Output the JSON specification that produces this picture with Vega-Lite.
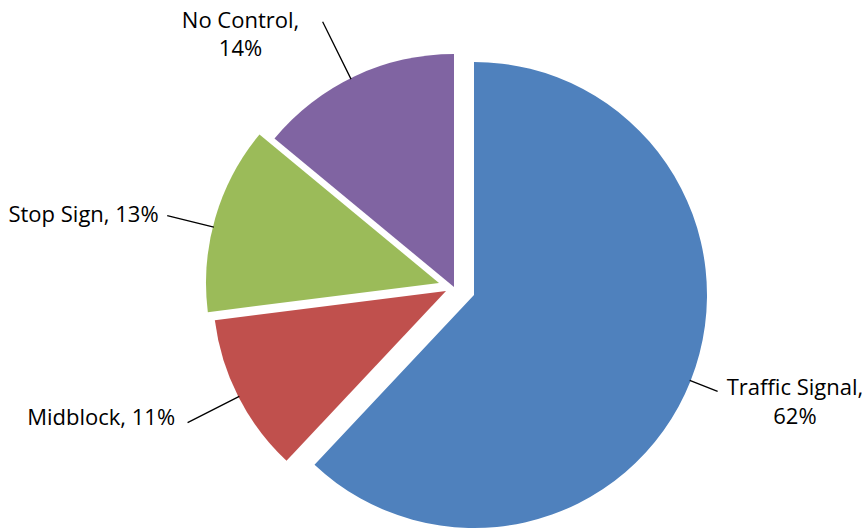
{
  "$schema": "https://vega.github.io/schema/vega-lite/v6.json",
  "width": 826,
  "height": 484,
  "autosize": "none",
  "padding": {"left": 41, "top": 45, "right": 0, "bottom": 0},
  "background": "white",
  "config": {
    "view": {"stroke": null},
    "text": {"font": "Open Sans", "fontSize": 22, "color": "#000"}
  },
  "data": {
    "values": [
      {"category": "Traffic Signal", "value": 62, "label": "Traffic Signal,\n62%"},
      {"category": "Midblock", "value": 11, "label": "Midblock, 11%"},
      {"category": "Stop Sign", "value": 13, "label": "Stop Sign, 13%"},
      {"category": "No Control", "value": 14, "label": "No Control,\n14%"}
    ]
  },
  "transform": [
    {"stack": "value", "groupby": [], "as": ["start", "end"]},
    {"fold": ["start", "end"], "as": ["edge", "angle"]},
    {
      "aggregate": [
        {"op": "min", "field": "angle", "as": "start"},
        {"op": "max", "field": "angle", "as": "end"},
        {"op": "mean", "field": "angle", "as": "mid"}
      ],
      "groupby": ["category", "label"]
    }
  ],
  "layer": [
    {
      "transform": [{"filter": {"field": "category", "equal": "Traffic Signal"}}],
      "mark": {"type": "arc", "outerRadius": 233, "xOffset": 20, "yOffset": 8},
      "encoding": {
        "theta": {"field": "start", "type": "quantitative", "scale": {"domain": [0, 100]}},
        "theta2": {"field": "end"},
        "color": {"field": "category", "type": "nominal", "legend": null,
          "scale": {"domain": ["Traffic Signal", "Midblock", "Stop Sign", "No Control"], "range": ["#4F81BD", "#C0504D", "#9BBB59", "#8064A2"]}}
      }
    },
    {
      "transform": [{"filter": {"field": "category", "equal": "Midblock"}}],
      "mark": {"type": "arc", "outerRadius": 233, "xOffset": -8, "yOffset": 4},
      "encoding": {
        "theta": {"field": "start", "type": "quantitative", "scale": {"domain": [0, 100]}},
        "theta2": {"field": "end"},
        "color": {"field": "category", "type": "nominal", "legend": null}
      }
    },
    {
      "transform": [{"filter": {"field": "category", "equal": "Stop Sign"}}],
      "mark": {"type": "arc", "outerRadius": 233, "xOffset": -15, "yOffset": -4},
      "encoding": {
        "theta": {"field": "start", "type": "quantitative", "scale": {"domain": [0, 100]}},
        "theta2": {"field": "end"},
        "color": {"field": "category", "type": "nominal", "legend": null}
      }
    },
    {
      "transform": [{"filter": {"field": "category", "equal": "No Control"}}],
      "mark": {"type": "arc", "outerRadius": 233, "xOffset": 0, "yOffset": 0},
      "encoding": {
        "theta": {"field": "start", "type": "quantitative", "scale": {"domain": [0, 100]}},
        "theta2": {"field": "end"},
        "color": {"field": "category", "type": "nominal", "legend": null}
      }
    },
    {
      "transform": [{"filter": {"field": "category", "equal": "Traffic Signal"}}],
      "mark": {"type": "arc", "innerRadius": 232, "outerRadius": 262, "xOffset": 20, "yOffset": 8, "filled": false, "stroke": "#000", "strokeWidth": 1.3},
      "encoding": {
        "theta": {"field": "mid", "type": "quantitative", "scale": {"domain": [0, 100]}},
        "theta2": {"field": "mid"}
      }
    },
    {
      "transform": [{"filter": {"field": "category", "equal": "Midblock"}}],
      "mark": {"type": "arc", "innerRadius": 232, "outerRadius": 290, "xOffset": -8, "yOffset": 4, "filled": false, "stroke": "#000", "strokeWidth": 1.3},
      "encoding": {
        "theta": {"field": "mid", "type": "quantitative", "scale": {"domain": [0, 100]}},
        "theta2": {"field": "mid"}
      }
    },
    {
      "transform": [{"filter": {"field": "category", "equal": "Stop Sign"}}],
      "mark": {"type": "arc", "innerRadius": 232, "outerRadius": 280, "xOffset": -15, "yOffset": -4, "thetaOffset": -0.04, "theta2Offset": -0.04, "filled": false, "stroke": "#000", "strokeWidth": 1.3},
      "encoding": {
        "theta": {"field": "mid", "type": "quantitative", "scale": {"domain": [0, 100]}},
        "theta2": {"field": "mid"}
      }
    },
    {
      "transform": [{"filter": {"field": "category", "equal": "No Control"}}],
      "mark": {"type": "arc", "innerRadius": 232, "outerRadius": 296, "xOffset": 0, "yOffset": 0, "thetaOffset": -0.02, "theta2Offset": -0.02, "filled": false, "stroke": "#000", "strokeWidth": 1.3},
      "encoding": {
        "theta": {"field": "mid", "type": "quantitative", "scale": {"domain": [0, 100]}},
        "theta2": {"field": "mid"}
      }
    },
    {
      "transform": [{"filter": {"field": "category", "equal": "Traffic Signal"}}],
      "mark": {"type": "text", "radius": 300, "xOffset": 20, "yOffset": 8, "dx": 42, "dy": -10, "align": "center", "baseline": "alphabetic", "lineBreak": "\n", "lineHeight": 29},
      "encoding": {
        "theta": {"field": "mid", "type": "quantitative", "stack": null, "scale": {"domain": [0, 100]}},
        "text": {"field": "label"}
      }
    },
    {
      "transform": [{"filter": {"field": "category", "equal": "Midblock"}}],
      "mark": {"type": "text", "radius": 304, "xOffset": -8, "yOffset": 4, "dx": 0, "dy": -4, "align": "right", "baseline": "alphabetic"},
      "encoding": {
        "theta": {"field": "mid", "type": "quantitative", "stack": null, "scale": {"domain": [0, 100]}},
        "text": {"field": "label"}
      }
    },
    {
      "transform": [{"filter": {"field": "category", "equal": "Stop Sign"}}],
      "mark": {"type": "text", "radius": 292, "xOffset": -15, "yOffset": -4, "dx": 0, "dy": 20, "align": "right", "baseline": "alphabetic"},
      "encoding": {
        "theta": {"field": "mid", "type": "quantitative", "stack": null, "scale": {"domain": [0, 100]}},
        "text": {"field": "label"}
      }
    },
    {
      "transform": [{"filter": {"field": "category", "equal": "No Control"}}],
      "mark": {"type": "text", "radius": 290, "xOffset": 0, "yOffset": 0, "dx": -90, "dy": 3.5, "align": "center", "baseline": "alphabetic", "lineBreak": "\n", "lineHeight": 28},
      "encoding": {
        "theta": {"field": "mid", "type": "quantitative", "stack": null, "scale": {"domain": [0, 100]}},
        "text": {"field": "label"}
      }
    }
  ]
}
